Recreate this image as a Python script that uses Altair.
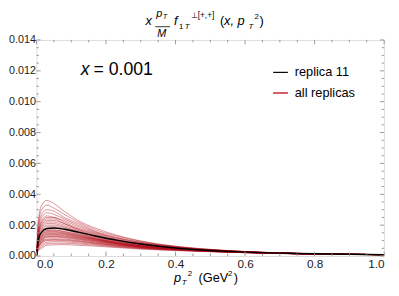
import altair as alt
import pandas as pd

# ---------------- data ----------------
pt2 = [0, 0.005, 0.015, 0.03, 0.05, 0.08, 0.12, 0.17, 0.23, 0.30, 0.40, 0.55, 0.75, 1.0]

replica_11 = [0, 0.00105, 0.00155, 0.00178, 0.00182, 0.00174, 0.00155, 0.0013, 0.00103, 0.00078, 0.00052, 0.0003, 0.00016, 0.00008]

rep_01 = [0, 0.0022, 0.0033, 0.0036, 0.0034, 0.0029, 0.0023, 0.0018, 0.00135, 0.00098, 0.00064, 0.00036, 0.00017, 0.00008]
rep_02 = [0, 0.0020, 0.0030, 0.0033, 0.0031, 0.0027, 0.0022, 0.0017, 0.0013, 0.00095, 0.00062, 0.00035, 0.00017, 0.00008]
rep_03 = [0, 0.0018, 0.0027, 0.0030, 0.0029, 0.0025, 0.0021, 0.0016, 0.00122, 0.0009, 0.0006, 0.00034, 0.00017, 0.00008]
rep_04 = [0, 0.0016, 0.0025, 0.0028, 0.0027, 0.0024, 0.0020, 0.00155, 0.00118, 0.00088, 0.00059, 0.00034, 0.00017, 0.00009]
rep_05 = [0, 0.0015, 0.0023, 0.0026, 0.0025, 0.0023, 0.0019, 0.0015, 0.00115, 0.00085, 0.00058, 0.00033, 0.00017, 0.00009]
rep_06 = [0, 0.0014, 0.0022, 0.0025, 0.0025, 0.0022, 0.0018, 0.00145, 0.0011, 0.00082, 0.00056, 0.00033, 0.00017, 0.00009]
rep_07 = [0, 0.0013, 0.0021, 0.0024, 0.0024, 0.0021, 0.00175, 0.0014, 0.00106, 0.0008, 0.00055, 0.00032, 0.00017, 0.00009]
rep_08 = [0, 0.0013, 0.0020, 0.0023, 0.0023, 0.0021, 0.0017, 0.00135, 0.00103, 0.00078, 0.00054, 0.00032, 0.00017, 0.00009]
rep_09 = [0, 0.0012, 0.0019, 0.0022, 0.0022, 0.0020, 0.00165, 0.0013, 0.001, 0.00076, 0.00053, 0.00031, 0.00016, 0.00009]
rep_10 = [0, 0.0012, 0.0018, 0.0021, 0.0021, 0.0019, 0.0016, 0.00127, 0.00098, 0.00074, 0.00052, 0.00031, 0.00016, 0.00009]
rep_11 = [0, 0.0011, 0.0017, 0.0020, 0.0020, 0.00185, 0.00155, 0.00124, 0.00096, 0.00072, 0.00051, 0.0003, 0.00016, 0.00009]
rep_12 = [0, 0.0011, 0.0016, 0.0019, 0.0019, 0.00178, 0.0015, 0.0012, 0.00093, 0.0007, 0.0005, 0.0003, 0.00016, 0.00009]
rep_13 = [0, 0.0010, 0.0015, 0.0018, 0.0018, 0.0017, 0.00145, 0.00117, 0.0009, 0.00068, 0.00049, 0.0003, 0.00016, 0.00009]
rep_14 = [0, 0.0009, 0.0014, 0.0017, 0.0017, 0.0016, 0.0014, 0.00113, 0.00088, 0.00066, 0.00048, 0.00029, 0.00016, 0.00009]
rep_15 = [0, 0.0009, 0.0013, 0.0016, 0.0016, 0.00152, 0.00133, 0.0011, 0.00086, 0.00065, 0.00047, 0.00029, 0.00016, 0.00009]
rep_16 = [0, 0.0008, 0.0012, 0.0015, 0.0015, 0.00145, 0.00127, 0.00106, 0.00083, 0.00063, 0.00046, 0.00028, 0.00015, 0.00009]
rep_17 = [0, 0.0008, 0.0011, 0.0014, 0.0014, 0.00136, 0.0012, 0.00101, 0.0008, 0.00061, 0.00045, 0.00028, 0.00015, 0.00009]
rep_18 = [0, 0.0007, 0.0010, 0.0013, 0.0013, 0.00127, 0.00113, 0.00096, 0.00077, 0.00059, 0.00044, 0.00027, 0.00015, 0.00009]
rep_19 = [0, 0.0006, 0.0009, 0.0012, 0.00122, 0.00118, 0.00106, 0.0009, 0.00073, 0.00057, 0.00042, 0.00027, 0.00015, 0.00009]
rep_20 = [0, 0.0006, 0.0009, 0.0011, 0.00112, 0.0011, 0.001, 0.00085, 0.0007, 0.00055, 0.00041, 0.00026, 0.00015, 0.00009]
rep_21 = [0, 0.0005, 0.0008, 0.0010, 0.00102, 0.001, 0.00092, 0.0008, 0.00066, 0.00052, 0.0004, 0.00026, 0.00015, 0.00009]
rep_22 = [0, 0.0005, 0.0007, 0.0009, 0.00093, 0.00092, 0.00085, 0.00075, 0.00062, 0.0005, 0.00038, 0.00025, 0.00014, 0.00009]
rep_23 = [0, 0.0004, 0.0006, 0.0008, 0.00083, 0.00083, 0.00078, 0.0007, 0.00059, 0.00048, 0.00037, 0.00025, 0.00014, 0.00009]
rep_24 = [0, 0.00035, 0.0005, 0.0007, 0.00073, 0.00074, 0.0007, 0.00064, 0.00055, 0.00045, 0.00035, 0.00024, 0.00014, 0.00009]
rep_25 = [0, 0.00085, 0.00125, 0.00155, 0.00156, 0.00148, 0.0013, 0.00108, 0.00085, 0.00064, 0.00046, 0.00028, 0.00015, 0.00009]
rep_26 = [0, 0.0008, 0.00115, 0.00145, 0.00146, 0.0014, 0.00124, 0.00104, 0.00082, 0.00062, 0.00045, 0.00028, 0.00015, 0.00009]
rep_27 = [0, 0.00075, 0.00105, 0.00135, 0.00136, 0.00131, 0.00117, 0.00099, 0.00079, 0.0006, 0.00044, 0.00027, 0.00015, 0.00009]
rep_28 = [0, 0.0007, 0.00098, 0.00125, 0.00127, 0.00122, 0.0011, 0.00093, 0.00075, 0.00058, 0.00043, 0.00027, 0.00015, 0.00009]
rep_29 = [0, 0.0009, 0.00135, 0.00165, 0.00166, 0.00157, 0.00137, 0.00112, 0.00087, 0.00066, 0.00047, 0.00029, 0.00016, 0.00009]
rep_30 = [0, 0.00055, 0.00085, 0.00105, 0.00107, 0.00105, 0.00096, 0.00083, 0.00068, 0.00054, 0.0004, 0.00026, 0.00015, 0.00009]

all_reps = [rep_01, rep_02, rep_03, rep_04, rep_05, rep_06, rep_07, rep_08, rep_09, rep_10,
            rep_11, rep_12, rep_13, rep_14, rep_15, rep_16, rep_17, rep_18, rep_19, rep_20,
            rep_21, rep_22, rep_23, rep_24, rep_25, rep_26, rep_27, rep_28, rep_29, rep_30]

x_ticks = [0.0, 0.2, 0.4, 0.6, 0.8, 1.0]
x_minor = [0.05, 0.1, 0.15, 0.25, 0.3, 0.35, 0.45, 0.5, 0.55, 0.65, 0.7, 0.75, 0.85, 0.9, 0.95]
y_ticks = [0.0, 0.002, 0.004, 0.006, 0.008, 0.010, 0.012, 0.014]
y_minor = [0.0005, 0.001, 0.0015, 0.0025, 0.003, 0.0035, 0.0045, 0.005, 0.0055,
           0.0065, 0.007, 0.0075, 0.0085, 0.009, 0.0095, 0.0105, 0.011, 0.0115, 0.0125, 0.013, 0.0135]

XMAX, YMAX = 1.0, 0.014

# ---------------- frames ----------------
rows = []
for i, r in enumerate(all_reps):
    for xv, yv in zip(pt2, r):
        rows.append({"pt2": xv, "val": yv, "rep": i})
reps_df = pd.DataFrame(rows)
black_df = pd.DataFrame({"pt2": pt2, "val": replica_11})

tick_rows = []
for v in x_ticks:
    tick_rows.append({"x": v, "x2": v, "y": 0, "y2": 0.00028})
    tick_rows.append({"x": v, "x2": v, "y": YMAX, "y2": YMAX - 0.00028})
for v in x_minor:
    tick_rows.append({"x": v, "x2": v, "y": 0, "y2": 0.00016})
    tick_rows.append({"x": v, "x2": v, "y": YMAX, "y2": YMAX - 0.00016})
for v in y_ticks:
    tick_rows.append({"x": 0, "x2": 0.012, "y": v, "y2": v})
    tick_rows.append({"x": XMAX, "x2": XMAX - 0.012, "y": v, "y2": v})
for v in y_minor:
    tick_rows.append({"x": 0, "x2": 0.007, "y": v, "y2": v})
    tick_rows.append({"x": XMAX, "x2": XMAX - 0.007, "y": v, "y2": v})
ticks_df = pd.DataFrame(tick_rows)

xs = alt.Scale(domain=[0, XMAX], nice=False, zero=False)
ys = alt.Scale(domain=[0, YMAX], nice=False, zero=False)

FONT = "Liberation Sans"
OX, OY = 37, 38  # page position of the plot origin (8px page margin + padding)

AX = alt.Axis(values=x_ticks, format=".1f", title=None, ticks=False, domain=False,
              grid=False, labelFont=FONT, labelFontSize=12, labelColor="#222",
              labelPadding=3)
AY = alt.Axis(values=y_ticks, format=".3f", title=None, ticks=False, domain=False,
              grid=False, labelFont=FONT, labelFontSize=11, labelColor="#222",
              labelPadding=1)

replica_layer = alt.Chart(reps_df).mark_line(
    interpolate="monotone", color="#b00e1a", opacity=0.45, strokeWidth=1, clip=True
).encode(
    x=alt.X("pt2:Q", scale=xs, axis=AX),
    y=alt.Y("val:Q", scale=ys, axis=AY),
    detail="rep:N",
)

black_layer = alt.Chart(black_df).mark_line(
    interpolate="monotone", color="black", strokeWidth=1.5, clip=True
).encode(
    x=alt.X("pt2:Q", scale=xs, axis=AX),
    y=alt.Y("val:Q", scale=ys, axis=AY),
)

tick_layer = alt.Chart(ticks_df).mark_rule(color="#9a9a9a", strokeWidth=1).encode(
    x=alt.X("x:Q", scale=xs, axis=AX),
    x2="x2:Q",
    y=alt.Y("y:Q", scale=ys, axis=AY),
    y2="y2:Q",
)


def txt(s, xp, yp, size, italic=False):
    return alt.Chart(pd.DataFrame({"t": [s]})).mark_text(
        font=FONT, fontSize=size, fontStyle="italic" if italic else "normal",
        align="left", baseline="alphabetic", color="black"
    ).encode(x=alt.value(xp - OX), y=alt.value(yp - OY), text="t:N")


def seg(x1, x2, yp, color, width=1):
    return alt.Chart(pd.DataFrame({"a": [0]})).mark_rule(color=color, strokeWidth=width).encode(
        x=alt.value(x1 - OX), x2=alt.value(x2 - OX), y=alt.value(yp - OY))


# title pieces (page pixel coordinates)
title_layers = [
    txt("x", 148, 23, 13, True),
    txt("p", 159, 14.5, 11, True),
    txt("T", 165.5, 17, 7.5, True),
    seg(158, 173, 24.5, "black", 0.8),
    txt("M", 160, 34.5, 11, True),
    txt("f", 177, 23, 13, True),
    txt("1", 182, 27, 8),
    txt("T", 188, 27, 8, True),
    txt("⊥[+,+]", 194, 15.5, 8.5),
    txt("(", 224, 23, 13),
    txt("x, p", 228, 23, 13, True),
    txt("T", 253, 27, 8, True),
    txt("2", 259, 17, 8),
    txt(")", 264, 23, 13),
]

xlabel_layers = [
    txt("p", 177, 284, 13, True),
    txt("T", 185, 288, 8, True),
    txt("2", 191, 278, 8),
    txt("(GeV", 202, 284, 13),
    txt("2", 232, 278, 8),
    txt(")", 238, 284, 13),
]

annot_layers = [
    txt("x", 82, 74, 18, True),
    txt("= 0.001", 95, 74, 18),
    seg(278, 293, 71, "black", 1.2),
    txt("replica 11", 300, 75, 13),
    seg(278, 293, 92, "#c8202a", 1.5),
    txt("all replicas", 300, 96, 13),
]

chart = alt.layer(
    replica_layer, black_layer, tick_layer, *title_layers, *xlabel_layers, *annot_layers
).properties(
    width=354, height=220,
    autosize=alt.AutoSizeParams(type="none"),
    padding={"left": OX - 8, "top": OY - 8, "right": 7, "bottom": 29},
).configure_view(
    stroke="#9a9a9a", strokeWidth=1
).configure(background="white")

chart.save("out.html", embed_options={"renderer": "svg", "actions": False})
